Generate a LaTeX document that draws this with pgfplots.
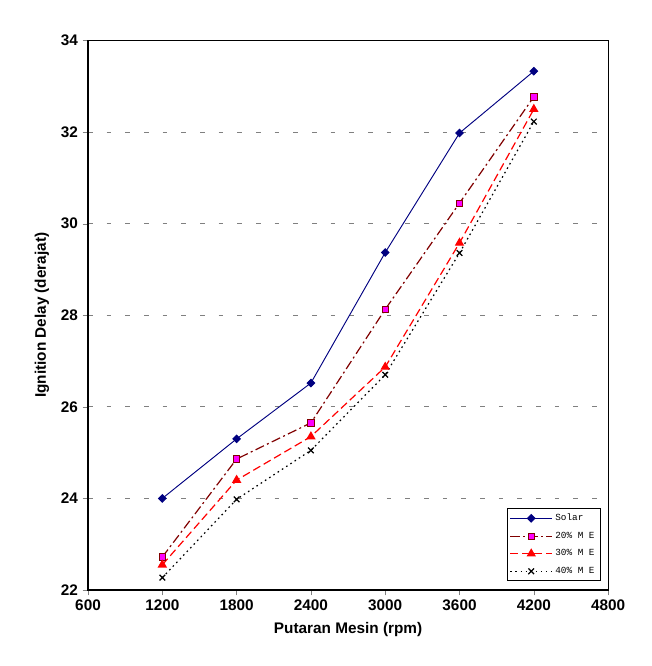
\documentclass[border=0pt]{standalone}
\usepackage{fontspec}
\setmainfont{Liberation Sans}
\newfontfamily\legfont{Liberation Mono}
\usepackage{pgfplots}
\pgfplotsset{compat=1.18}
\definecolor{navyc}{RGB}{0,0,128}
\definecolor{maroonc}{RGB}{128,0,0}
\definecolor{magc}{RGB}{255,0,255}
\begin{document}
\begin{tikzpicture}[x=0.75pt,y=0.75pt]
\begin{axis}[
  name=ax,
  scale only axis,
  width=390pt, height=412pt,
  xmin=600, xmax=4800, ymin=22, ymax=34,
  xtick={600,1200,...,4800}, ytick={22,24,...,34},
  tick align=outside, tick pos=left,
  major tick length=4pt,
  /pgf/number format/assume math mode=true,
  /pgf/number format/set thousands separator={},
  ticklabel style={font=\fontsize{11.5}{13}\selectfont\bfseries},
  xlabel={Putaran Mesin (rpm)}, ylabel={Ignition Delay (derajat)},
  label style={font=\fontsize{11.5}{13}\selectfont\bfseries},
  xlabel style={yshift=-2pt},
  ylabel style={yshift=2pt},
  ymajorgrids, major grid style={gray, dash pattern=on 3.5pt off 10.5pt, line width=0.6pt},
  axis line style={black, line width=0.8pt},
  legend style={font=\legfont\fontsize{7}{8}\selectfont, at={(rel axis cs:0.985,0.016)}, anchor=south east, draw=black, line width=0.6pt, row sep=3pt, inner sep=2pt},
  legend cell align=left,
  legend image code/.code={
    \draw[mark repeat=2,mark phase=2] plot coordinates {(0cm,0cm) (0.55cm,0cm) (1.1cm,0cm)};},
  clip=false,
]
\addplot[navyc, line width=0.7pt, mark=square*, mark size=2pt, mark options={solid, fill=navyc, draw=navyc, rotate=45}] coordinates {
(1200,24.00) (1800,25.30) (2400,26.52) (3000,29.37) (3600,31.98) (4200,33.33)};
\addlegendentry{Solar}
\addplot[maroonc, line width=0.9pt, dash pattern=on 7pt off 2.5pt on 1.5pt off 2.5pt, mark=square*, mark size=2.4pt, mark options={solid, fill=magc, draw=maroonc, line width=0.5pt}] coordinates {
(1200,22.72) (1800,24.86) (2400,25.65) (3000,28.13) (3600,30.45) (4200,32.77)};
\addlegendentry{20\% M E}
\addplot[red, line width=0.9pt, dash pattern=on 6pt off 3pt, mark=triangle*, mark size=3.2pt, mark options={solid, fill=red, draw=red}] coordinates {
(1200,22.55) (1800,24.40) (2400,25.35) (3000,26.87) (3600,29.58) (4200,32.50)};
\addlegendentry{30\% M E}
\addplot[black, line width=0.9pt, dash pattern=on 1.2pt off 2.6pt, mark=x, mark size=3pt, mark options={solid, draw=black, line width=0.9pt}] coordinates {
(1200,22.27) (1800,23.98) (2400,25.05) (3000,26.70) (3600,29.36) (4200,32.23)};
\addlegendentry{40\% M E}
\end{axis}
\pgfresetboundingbox
\path[use as bounding box] ([xshift=-66pt,yshift=-57pt]ax.south west) rectangle ([xshift=32.25pt,yshift=30.4pt]ax.north east);
\end{tikzpicture}
\end{document}
